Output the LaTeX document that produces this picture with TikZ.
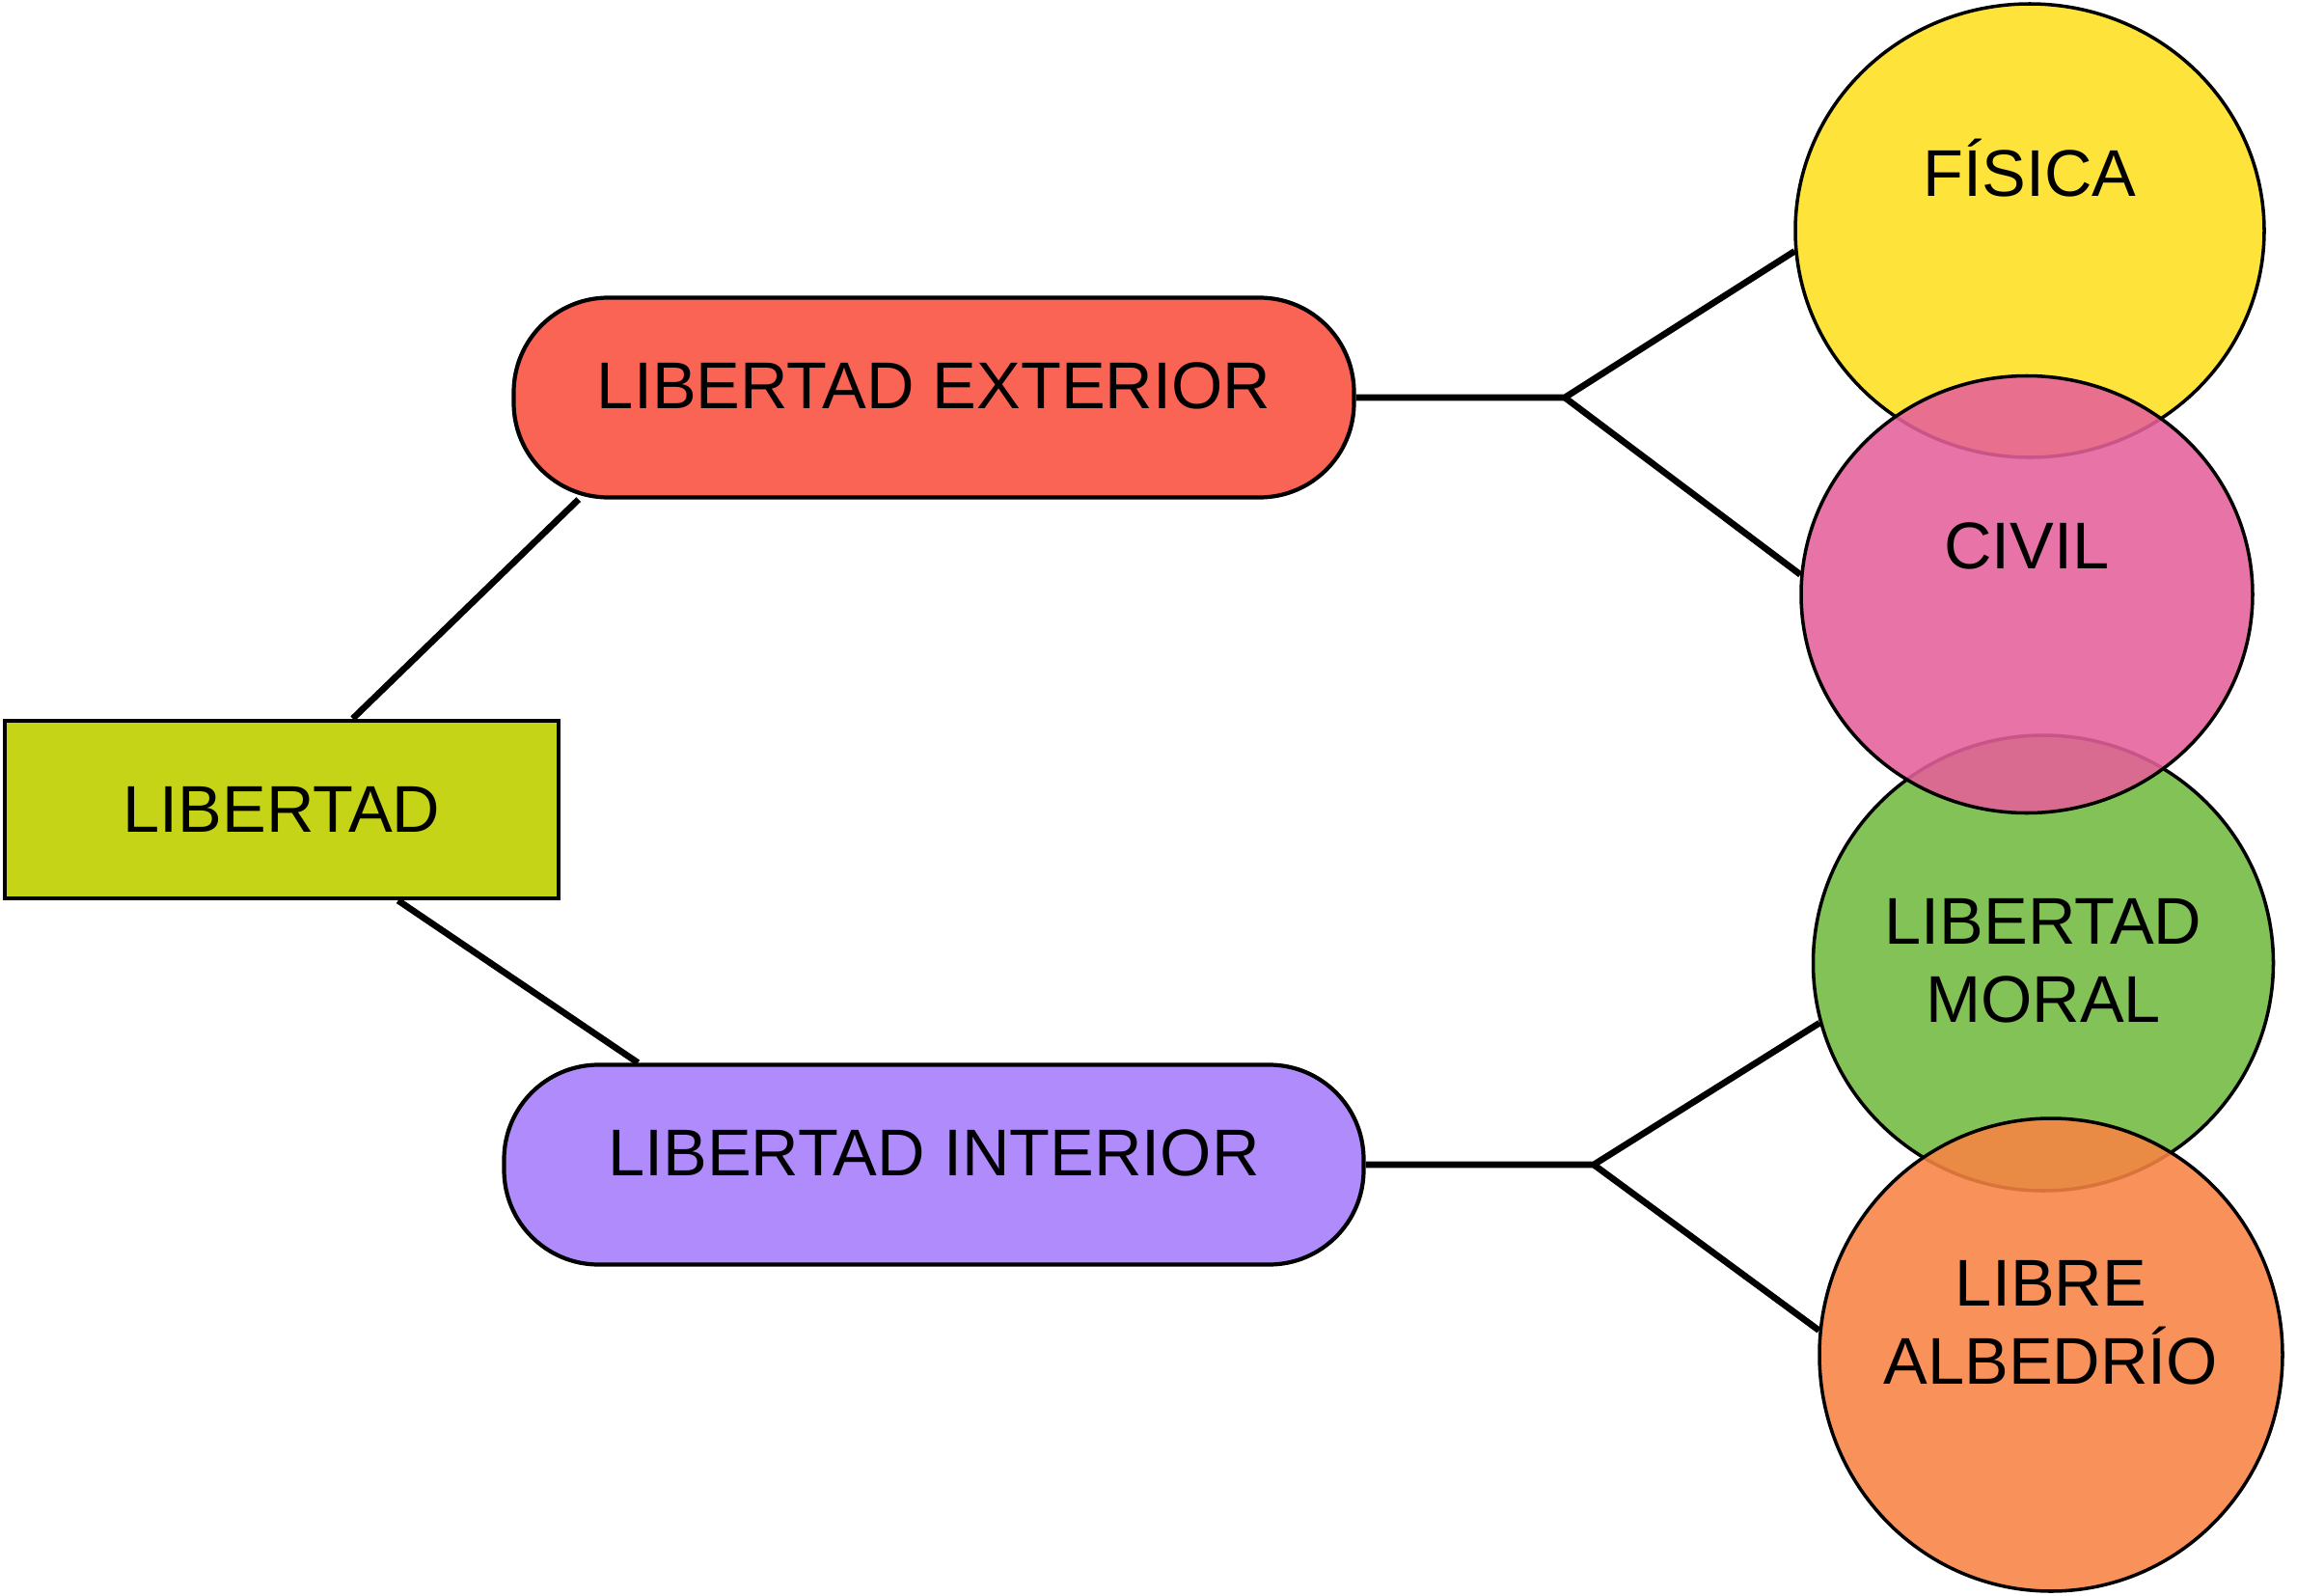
\documentclass[tikz,border=0pt]{standalone}
\usepackage{fontspec}
\setmainfont{Liberation Sans}
\usepackage{xcolor}
\usepackage{tikz}
\usetikzlibrary{shapes,positioning}
\definecolor{libverde}{RGB}{198,212,24}
\definecolor{extrojo}{RGB}{250,100,84}
\definecolor{intlila}{RGB}{176,139,251}
\definecolor{fisamarillo}{RGB}{254,227,58}
\definecolor{civrosa}{RGB}{229,96,154}
\definecolor{morverde}{RGB}{131,194,87}
\definecolor{albnaranja}{RGB}{248,131,67}
\tikzset{mapa-line/.style={line width=1.9pt}}
\tikzset{mapa-box/.style={draw, line width=1.3pt, inner sep=0, minimum width=5.74cm, minimum height=1.84cm}}
\tikzset{mapa-pill/.style={draw, line width=1.2pt, inner sep=0, rounded corners=0.98cm, minimum height=2.07cm, text depth=0.24cm}}
\tikzset{mapa-circle/.style={draw, ellipse, line width=1pt, inner sep=0, text opacity=1}}
\begin{document}
\begin{tikzpicture}[font=\fontsize{19.5}{23}\selectfont]
            \useasboundingbox (0,0) rectangle (24.09,-16.54);

            \node[mapa-box, fill=libverde] (lib) at (2.92,-8.39) {LIBERTAD};

            \node[mapa-pill, fill=extrojo, minimum width=8.71cm] (ext) at (9.68,-4.12) {LIBERTAD EXTERIOR};
            \node[mapa-pill, fill=intlila, minimum width=8.91cm] (int) at (9.68,-12.07) {LIBERTAD INTERIOR};

            \node[mapa-circle, fill=fisamarillo, minimum width=4.86cm, minimum height=4.70cm,
                  label={[yshift=0.65cm]center:FÍSICA}] (fis) at (21.04,-2.39) {};
            \node[mapa-circle, fill=morverde, minimum width=4.77cm, minimum height=4.72cm,
                  label={[align=center, yshift=0.02cm]center:LIBERTAD\\MORAL}] (mor) at (21.18,-9.98) {};
            \node[mapa-circle, fill=civrosa, fill opacity=0.88, minimum width=4.68cm, minimum height=4.53cm,
                  label={[yshift=0.5cm]center:CIVIL}] (civ) at (21.01,-6.16) {};
            \node[mapa-circle, fill=albnaranja, fill opacity=0.88, minimum width=4.80cm, minimum height=4.90cm,
                  label={[align=center, yshift=0.33cm]center:LIBRE\\ALBEDRÍO}] (alb) at (21.26,-14.04) {};

            \coordinate (extfork) at (16.22,-4.12);
            \coordinate (intfork) at (16.52,-12.07);

            \draw[mapa-line] (lib.52) -- (ext.196);
            \draw[mapa-line] (lib.-38) -- (int.161);

            \draw[mapa-line] (ext.east) -- (extfork) -- (fis.185);
            \draw[mapa-line] (extfork) -- (civ.175);

            \draw[mapa-line] (int.east) -- (intfork) -- (mor.195);
            \draw[mapa-line] (intfork) -- (alb.174);
        \end{tikzpicture}
\end{document}
